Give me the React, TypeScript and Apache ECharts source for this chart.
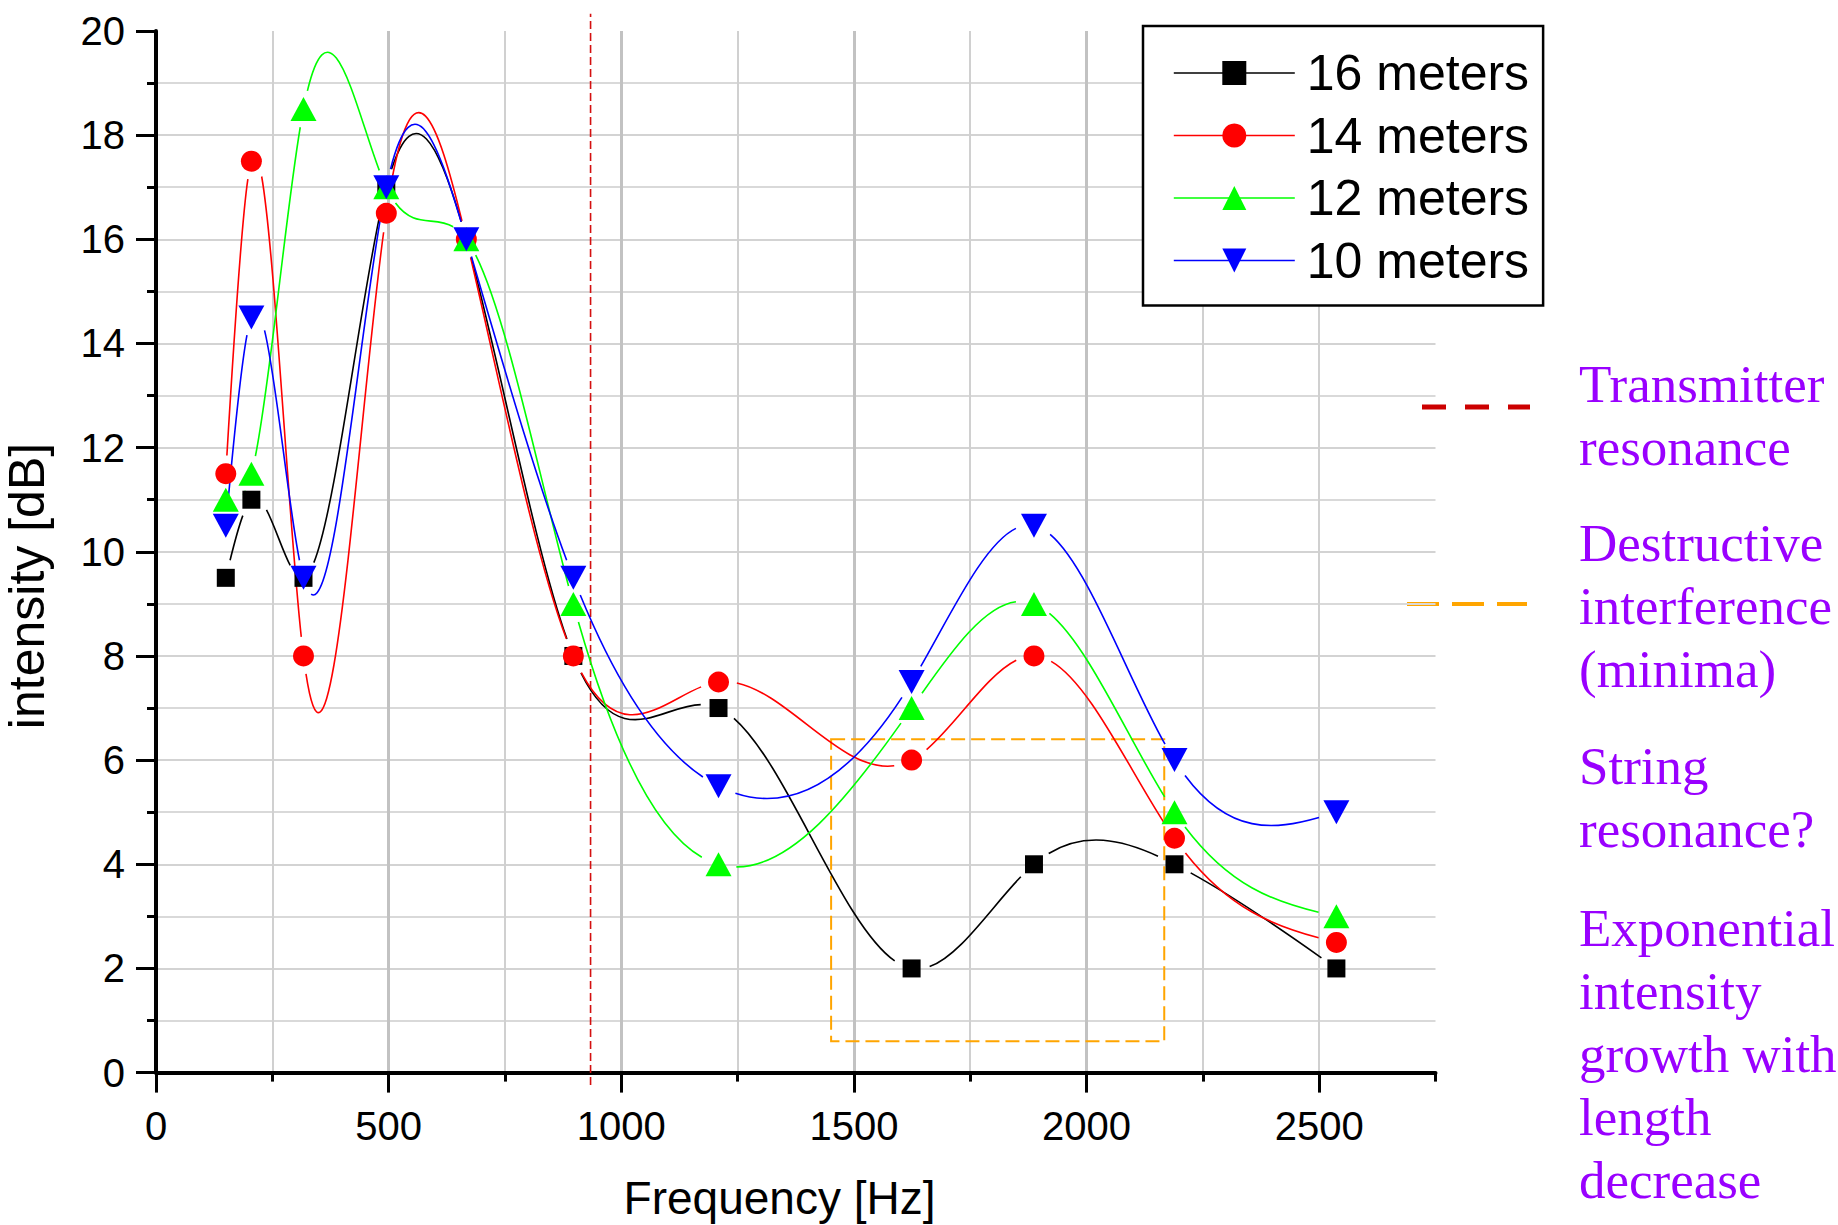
import React, { useEffect, useRef } from 'react';
import * as echarts from 'echarts';

// ---- data ----
const frequencies = [150, 205, 317, 495, 667, 897, 1209, 1624, 1887, 2189, 2537];
const seriesNames = ['16 meters', '14 meters', '12 meters', '10 meters'];
const intensity16 = [9.5, 11, 9.5, 17, 16, 8, 7, 2, 4, 4, 2];
const intensity14 = [11.5, 17.5, 8, 16.5, 16, 8, 7.5, 6, 8, 4.5, 2.5];
const intensity12 = [11, 11.5, 18.5, 17, 16, 9, 4, 7, 9, 5, 3];
const intensity10 = [10.5, 14.5, 9.5, 17, 16, 9.5, 5.5, 7.5, 10.5, 6, 5];
const xTickLabels = [0, 500, 1000, 1500, 2000, 2500];
const yTickLabels = [0, 2, 4, 6, 8, 10, 12, 14, 16, 18, 20];
const transmitterResonanceHz = 934;
const resonanceLineSpan = [-0.24, 20.33];
const minimaFreqRange = [1451, 2167];
const minimaIntensityRange = [0.6, 6.4];
const annotationBlocks = [
  ['Transmitter', 'resonance'],
  ['Destructive', 'interference', '(minima)'],
  ['String', 'resonance?'],
  ['Exponential', 'intensity', 'growth with', 'length', 'decrease'],
];

const SANS = '"Liberation Sans", Arial, sans-serif';
const SERIF = '"Liberation Serif", "Times New Roman", serif';
const PURPLE = '#9900FF';
const GAP = 18; // px gap between curve and symbol (Origin style)

// Natural cubic spline second derivatives (used only to derive bezier tangents)
function splineSecondDerivs(xs: number[], ys: number[]) {
  const n = xs.length;
  const h: number[] = [];
  for (let i = 0; i < n - 1; i++) h.push(xs[i + 1] - xs[i]);
  const M = new Array(n).fill(0);
  const m = n - 2;
  if (m <= 0) return { h, M };
  const a: number[] = [], b: number[] = [], c: number[] = [], d: number[] = [];
  for (let i = 1; i < n - 1; i++) {
    a.push(h[i - 1]);
    b.push(2 * (h[i - 1] + h[i]));
    c.push(h[i]);
    d.push(6 * ((ys[i + 1] - ys[i]) / h[i] - (ys[i] - ys[i - 1]) / h[i - 1]));
  }
  for (let i = 1; i < m; i++) {
    const w = a[i] / b[i - 1];
    b[i] -= w * c[i - 1];
    d[i] -= w * d[i - 1];
  }
  const sol = new Array(m);
  sol[m - 1] = d[m - 1] / b[m - 1];
  for (let i = m - 2; i >= 0; i--) sol[i] = (d[i] - c[i] * sol[i + 1]) / b[i];
  for (let i = 0; i < m; i++) M[i + 1] = sol[i];
  return { h, M };
}

type P = [number, number];
function bez(p: P[], t: number): P {
  const u = 1 - t;
  return [
    u * u * u * p[0][0] + 3 * u * u * t * p[1][0] + 3 * u * t * t * p[2][0] + t * t * t * p[3][0],
    u * u * u * p[0][1] + 3 * u * u * t * p[1][1] + 3 * u * t * t * p[2][1] + t * t * t * p[3][1],
  ];
}
function splitBez(p: P[], t: number): [P[], P[]] {
  const l = (a: P, b: P): P => [a[0] + (b[0] - a[0]) * t, a[1] + (b[1] - a[1]) * t];
  const p01 = l(p[0], p[1]), p12 = l(p[1], p[2]), p23 = l(p[2], p[3]);
  const p012 = l(p01, p12), p123 = l(p12, p23);
  const m = l(p012, p123);
  return [[p[0], p01, p012, m], [m, p123, p23, p[3]]];
}

function makeCurve(name: string, values: number[], color: string) {
  const { h, M } = splineSecondDerivs(frequencies, values);
  return {
    name,
    type: 'custom',
    silent: true,
    z: 2,
    data: frequencies.map((f, i) => [f, values[i]]),
    encode: { x: 0, y: 1 },
    renderItem: (params: any, api: any) => {
      const i = params.dataIndex;
      if (i >= frequencies.length - 1) return null;
      const x0 = frequencies[i], x1 = frequencies[i + 1];
      const y0 = values[i], y1 = values[i + 1];
      const hh = h[i];
      const s0 = (y1 - y0) / hh - (hh * (2 * M[i] + M[i + 1])) / 6;
      const s1 = (y1 - y0) / hh + (hh * (M[i] + 2 * M[i + 1])) / 6;
      const pts: P[] = [
        api.coord([x0, y0]),
        api.coord([x0 + hh / 3, y0 + (s0 * hh) / 3]),
        api.coord([x1 - hh / 3, y1 - (s1 * hh) / 3]),
        api.coord([x1, y1]),
      ];
      const dist = (a: P, b: P) => Math.hypot(a[0] - b[0], a[1] - b[1]);
      let tA = 1, tB = 0;
      for (let k = 0; k <= 400; k++) {
        const t = k / 400;
        if (dist(bez(pts, t), pts[0]) >= GAP) { tA = t; break; }
      }
      for (let k = 400; k >= 0; k--) {
        const t = k / 400;
        if (dist(bez(pts, t), pts[3]) >= GAP) { tB = t; break; }
      }
      if (tA >= tB) return null;
      const left = splitBez(pts, tB)[0];
      const sub = splitBez(left, tA / tB)[1];
      return {
        type: 'bezierCurve',
        shape: {
          x1: sub[0][0], y1: sub[0][1],
          cpx1: sub[1][0], cpy1: sub[1][1],
          cpx2: sub[2][0], cpy2: sub[2][1],
          x2: sub[3][0], y2: sub[3][1],
        },
        style: { stroke: color, fill: 'none', lineWidth: 1.6 },
      };
    },
  };
}

function makeMarkers(name: string, values: number[], color: string, symbol: string, size: any, rotate: number) {
  return {
    name,
    type: 'line',
    z: 3,
    data: frequencies.map((f, i) => [f, values[i]]),
    symbol,
    symbolSize: size,
    symbolRotate: rotate,
    showAllSymbol: true,
    itemStyle: { color, borderWidth: 0 },
    lineStyle: { color, width: 0, opacity: 0 },
    emphasis: { disabled: true },
  };
}

export default function App() {
  const ref = useRef<HTMLDivElement>(null);
  useEffect(() => {
    if (!ref.current) return;
    const chart = echarts.init(ref.current, null, { renderer: 'svg' });

    const blockStarts = [402, 561, 784, 946];
    const lineStep = 63;
    const annotationTexts: any[] = [];
    annotationBlocks.forEach((block, bi) => {
      block.forEach((line, li) => {
        annotationTexts.push({
          type: 'text',
          x: 1579,
          y: blockStarts[bi] + li * lineStep - 18,
          style: {
            text: line, fontSize: 53, fontFamily: SERIF, fill: PURPLE,
            align: 'left', verticalAlign: 'middle', textAlign: 'left', textVerticalAlign: 'middle',
          },
        });
      });
    });

    const colors = ['#000000', '#FF0000', '#00FF00', '#0000FF'];
    const allValues = [intensity16, intensity14, intensity12, intensity10];

    const option: any = {
      animation: false,
      backgroundColor: '#ffffff',
      textStyle: { fontFamily: SANS },
      grid: { left: 156, top: 31, width: 1279.5, height: 1041.6, containLabel: false, outerBoundsMode: 'none' },
      legend: {
        data: seriesNames,
        orient: 'vertical',
        left: 1143,
        top: 26,
        itemWidth: 121,
        itemHeight: 30,
        itemGap: 12.5,
        padding: [22, 14, 20, 30],
        borderColor: '#000',
        borderWidth: 2.5,
        backgroundColor: '#fff',
        selectedMode: false,
        lineStyle: { width: 1.6, opacity: 1 },
        textStyle: { fontSize: 50, fontFamily: SANS, color: '#000', lineHeight: 50, padding: [0, 0, 0, 7] },
      },
      xAxis: [
        {
          type: 'value', min: 0, max: 2750, interval: 250, position: 'bottom',
          axisLine: { show: true, onZero: false, lineStyle: { color: '#000', width: 4 } },
          axisTick: { show: true, length: 9, lineStyle: { color: '#000', width: 3 } },
          axisLabel: { show: false },
          splitLine: { show: true, showMinLine: false, showMaxLine: false, lineStyle: { color: '#D0D0D0', width: 2 } },
        },
        {
          type: 'value', min: 0, max: 2750, interval: 500, position: 'bottom', offset: 0,
          axisLine: { show: false, onZero: false },
          axisTick: { show: true, customValues: xTickLabels, length: 20, lineStyle: { color: '#000', width: 3 } },
          axisLabel: {
            show: true, customValues: xTickLabels,
            formatter: (v: number) => (xTickLabels.indexOf(v) >= 0 ? String(v) : ''),
            color: '#000', fontSize: 40, fontFamily: SANS, margin: 33, lineHeight: 40,
          },
          splitLine: { show: true, showMinLine: false, showMaxLine: false, lineStyle: { color: '#C2C2C2', width: 3 } },
        },
      ],
      yAxis: {
        type: 'value', min: 0, max: 20, interval: 2,
        axisLine: { show: true, onZero: false, lineStyle: { color: '#000', width: 4 } },
        axisTick: { show: true, length: 20, lineStyle: { color: '#000', width: 3 } },
        minorTick: { show: true, splitNumber: 2, length: 9, lineStyle: { color: '#000', width: 3 } },
        axisLabel: { color: '#000', fontSize: 40, fontFamily: SANS, margin: 31, customValues: yTickLabels },
        splitLine: { show: true, showMinLine: false, showMaxLine: false, lineStyle: { color: '#D3D3D3', width: 2 } },
        minorSplitLine: { show: true, lineStyle: { color: '#D9D9D9', width: 2 } },
      },
      series: [
        ...allValues.map((vals, k) => makeCurve(seriesNames[k] + ' spline', vals, colors[k])),
        makeMarkers(seriesNames[0], intensity16, colors[0], 'rect', 18, 0),
        makeMarkers(seriesNames[1], intensity14, colors[1], 'circle', 21, 0),
        makeMarkers(seriesNames[2], intensity12, colors[2], 'triangle', [26, 24], 0),
        makeMarkers(seriesNames[3], intensity10, colors[3], 'triangle', [26, 24], 180),
        {
          name: 'annotations',
          type: 'line',
          clip: false,
          silent: true,
          symbol: 'none',
          data: resonanceLineSpan.map((v) => [transmitterResonanceHz, v]),
          lineStyle: { color: '#D41010', width: 1.6, type: [8, 4] },
          z: 1,
          markArea: {
            silent: true,
            label: { show: false },
            itemStyle: { color: 'rgba(0,0,0,0)', borderColor: '#FFA500', borderWidth: 2, borderType: [14, 6] },
            data: [[
              { coord: [minimaFreqRange[0], minimaIntensityRange[1]] },
              { coord: [minimaFreqRange[1], minimaIntensityRange[0]] },
            ]],
          },
        },
      ],
      graphic: [
        {
          type: 'text', x: 27, y: 586, rotation: Math.PI / 2,
          style: { text: 'intensity [dB]', fontSize: 50, fontFamily: SANS, fill: '#000', align: 'center', verticalAlign: 'middle', textAlign: 'center', textVerticalAlign: 'middle' },
        },
        {
          type: 'text', x: 779.5, y: 1198,
          style: { text: 'Frequency [Hz]', fontSize: 46, fontFamily: SANS, fill: '#000', align: 'center', verticalAlign: 'middle', textAlign: 'center', textVerticalAlign: 'middle' },
        },
        {
          type: 'line', shape: { x1: 1422, y1: 407, x2: 1530, y2: 407 },
          style: { stroke: '#CC0000', lineWidth: 5, lineDash: [24, 19] },
        },
        {
          type: 'line', shape: { x1: 1407, y1: 604, x2: 1527, y2: 604 },
          style: { stroke: '#FFA500', lineWidth: 4, lineDash: [32, 13] },
        },
        ...annotationTexts,
      ],
    };
    chart.setOption(option);
    return () => chart.dispose();
  }, []);
  return (
    <div
      ref={ref}
      style={{ position: 'fixed', left: 0, top: 0, width: 1838, height: 1225, background: '#fff' }}
    />
  );
}
